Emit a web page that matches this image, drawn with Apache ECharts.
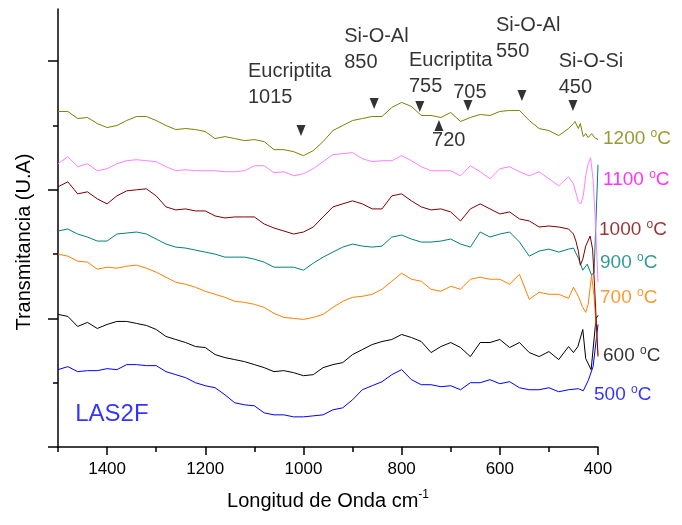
<!DOCTYPE html>
<html><head><meta charset="utf-8">
<script src="https://cdn.jsdelivr.net/npm/echarts@6/dist/echarts.min.js"></script>
<style>html,body{margin:0;padding:0;background:#fff}#c{width:682px;height:525px}</style>
</head><body><div id="c"></div>
<script>
// Wavenumber grid (cm^-1) shared by all spectra
const wavenumbers = [1500,1480,1460,1440,1420,1400,1380,1360,1340,1320,1300,1280,1260,1240,1220,1200,1180,1160,1140,1120,1100,1080,1060,1040,1020,1000,980,960,940,920,900,880,860,840,820,800,780,760,740,720,700,680,660,640,620,600,580,560,540,520,500,480,460];

// Offset transmittance (arbitrary units) for each temperature
const t1200 = [334,334,327,328,322,318,320,325,329,329,325,320,316,317,316,314,307,309,307,305,306,304,296,296,294,290,295,304,315,320,325,327,329,329,338,343,339,330,330,328,333,324,328,331,330,334,335,335,325,317,315,310,317];
const t1200Tail = [[450,322],[447,324],[440,317],[436,322],[430,309],[425,312],[420,308],[413,312],[407,308],[400,306]];
const t1100 = [282,289,279,282,275,277,282,285,286,285,284,279,275,276,275,275,275,274,274,275,280,280,273,274,270,272,277,284,291,292,293,287,284,285,285,290,285,279,275,275,275,270,280,274,267,277,279,274,270,274,267,260,269];
const t1100Tail = [[450,262],[440,244],[435,242],[430,250],[425,270],[420,282],[415,288],[410,266],[405,222],[400,164]];
const t1000 = [259,264,252,254,247,242,250,255,256,257,250,239,236,237,235,235,230,228,229,229,229,222,218,215,212,214,219,229,239,242,245,242,237,237,250,252,245,239,236,237,234,225,237,242,237,232,234,227,225,219,220,219,217];
const t1000Tail = [[450,212],[445,205],[440,195],[436,181],[431,187],[425,200],[416,210],[411,197],[407,160],[400,90]];
const t900 = [215,217,212,209,205,205,212,213,214,212,207,202,199,198,196,194,192,189,189,189,187,184,179,179,179,176,183,189,194,199,202,200,199,200,209,211,207,204,204,205,207,202,199,214,209,212,214,204,190,195,197,194,197];
const t900Tail = [[450,198],[440,188],[431,176],[422,182],[413,171],[408,174],[400,281]];
const t700 = [192,190,185,184,177,179,178,180,181,178,174,169,164,162,159,155,152,149,145,144,142,139,133,129,128,127,129,132,139,145,149,150,152,157,165,173,167,165,157,155,160,157,167,169,167,167,162,172,147,154,152,152,148];
const t700Tail = [[450,159],[440,150],[432,140],[425,134],[420,142],[413,171],[408,150],[400,92]];
const t600 = [132,130,120,124,118,122,125,125,123,121,117,110,107,104,100,99,92,89,87,85,82,79,75,76,74,71,72,79,82,84,92,97,102,105,107,112,109,105,94,100,104,99,90,104,104,107,99,104,94,90,95,87,100];
const t600Tail = [[450,94],[441,100],[431,117],[425,88],[414,77],[404,128],[400,131]];
const t500 = [77,80,75,76,76,78,77,82,82,81,81,75,72,69,64,61,59,52,44,42,41,34,32,32,30,30,31,32,37,39,47,57,61,65,72,77,67,62,62,60,61,57,64,64,67,63,65,59,57,57,59,55,57];
const t500Tail = [[440,58],[430,56],[420,66],[410,80],[400,122]];

// Series labels
const seriesNames = ['1200','1100','1000','900','700','600','500'];
const lineColors  = ['#808000','#ff80ff','#800000','#008080','#ff8000','#000000','#0000ff'];
const labelColors = ['#808000','#ff00ff','#800000','#008080','#ff8000','#000000','#0000ff'];
const labelY      = [307,266,216,183,149,91,52];
const labelDx     = [5,5,1,2,2,5,-4];

// Band annotations
const annoText = ['Eucriptita\n1015','Si-O-Al\n850','Eucriptita\n755','705','Si-O-Al\n550','Si-O-Si\n450','720'];
const annoX = [1113,917,785,695,608,480,738];
const annoY = [361,396,372,353,407,371,305];
const downMarkX = [1005,856,763,665,555,451];
const downMarkY = [315,342,339,340,350,340];
const upMarkX = [724];
const upMarkY = [320];

// Axis ticks
const xMajor = [400,600,800,1000,1200,1400];
const xMinor = [500,700,900,1100,1300,1500];
const yMajor = [0,128,256,384];
const yMinor = [64,192,320];

const FONT = 'Liberation Sans, Arial, sans-serif';
const allVals = [t1200,t1100,t1000,t900,t700,t600,t500];
const allTails = [t1200Tail,t1100Tail,t1000Tail,t900Tail,t700Tail,t600Tail,t500Tail];

const series = [];
allVals.forEach((vals, k) => {
  series.push({
    type: 'line', name: seriesNames[k], showSymbol: false, symbol: 'none',
    data: wavenumbers.map((w, i) => [w, vals[i]]).concat(allTails[k]),
    lineStyle: { color: lineColors[k], width: 1 }, itemStyle: { color: lineColors[k] },
    z: 10 - k, silent: true, animation: false
  });
});

series.push({
  type: 'scatter', symbolSize: 0, silent: true, animation: false, z: 20,
  data: seriesNames.map((n, k) => ({
    value: [400, labelY[k]],
    label: {
      show: true, position: 'right', distance: 0, offset: [labelDx[k], 0],
      formatter: '{t|' + n + ' }{o|o}{t|C}',
      rich: {
        t: { fontSize: 19, fontFamily: FONT, color: labelColors[k], lineHeight: 22 },
        o: { fontSize: 12, fontFamily: FONT, color: labelColors[k], lineHeight: 14, verticalAlign: 'top' }
      }
    }
  }))
});

series.push({
  type: 'scatter', symbolSize: 0, silent: true, animation: false, z: 20,
  data: [{ value: [1465, 32], label: { show: true, position: 'right', distance: 0, formatter: 'LAS2F', fontSize: 24, fontFamily: FONT, color: '#0000ff' } }]
});

series.push({
  type: 'scatter', symbolSize: 0, silent: true, animation: false, z: 20,
  data: annoText.map((t, i) => ({
    value: [annoX[i], annoY[i]],
    label: { show: true, position: 'right', distance: 0, formatter: t, fontSize: 20, lineHeight: 26, fontFamily: FONT, color: '#000' }
  }))
});

series.push({
  type: 'scatter', symbol: 'triangle', symbolSize: [9, 11], symbolRotate: 180, silent: true, animation: false, z: 20,
  itemStyle: { color: '#000' },
  data: downMarkX.map((x, i) => [x, downMarkY[i]])
});
series.push({
  type: 'scatter', symbol: 'triangle', symbolSize: [9, 11], silent: true, animation: false, z: 20,
  itemStyle: { color: '#000' },
  data: upMarkX.map((x, i) => [x, upMarkY[i]])
});

const axisLineStyle = { color: '#000', width: 1.5 };
const option = {
  backgroundColor: '#fff',
  animation: false,
  grid: { left: 58, right: 84, top: 9, bottom: 78, containLabel: false, outerBoundsMode: 'none' },
  xAxis: [
    {
      type: 'value', min: 400, max: 1500, inverse: true, interval: 100, position: 'bottom',
      axisLine: { show: true, lineStyle: axisLineStyle },
      axisTick: { show: true, customValues: xMajor, length: 8, lineStyle: axisLineStyle },
      axisLabel: { show: true, customValues: xMajor, color: '#000', fontSize: 17, fontFamily: FONT, margin: 14,
                   formatter: v => String(v) },
      splitLine: { show: false },
      name: '{a|Longitud de Onda cm}{s|-1}', nameLocation: 'middle', nameGap: 42, nameMoveOverlap: false,
      nameTextStyle: { rich: {
        a: { fontSize: 20, fontFamily: FONT, color: '#000', lineHeight: 24 },
        s: { fontSize: 12, fontFamily: FONT, color: '#000', lineHeight: 14, verticalAlign: 'top' }
      } }
    },
    {
      type: 'value', min: 400, max: 1500, inverse: true, interval: 100, position: 'bottom',
      axisLine: { show: false },
      axisTick: { show: true, customValues: xMinor, length: 5, lineStyle: axisLineStyle },
      axisLabel: { show: false }, splitLine: { show: false }
    }
  ],
  yAxis: [
    {
      type: 'value', min: 0, max: 436, interval: 128, position: 'left',
      axisLine: { show: true, lineStyle: axisLineStyle },
      axisTick: { show: true, customValues: yMajor, length: 10, lineStyle: axisLineStyle },
      axisLabel: { show: false }, splitLine: { show: false },
      name: 'Transmitancia (U.A)', nameLocation: 'middle', nameRotate: 90, nameGap: 24, nameMoveOverlap: false,
      nameTextStyle: { fontSize: 20, fontFamily: FONT, color: '#000', padding: [0, 28, 0, 0] }
    },
    {
      type: 'value', min: 0, max: 436, interval: 128, position: 'left',
      axisLine: { show: false },
      axisTick: { show: true, customValues: yMinor, length: 5, lineStyle: axisLineStyle },
      axisLabel: { show: false }, splitLine: { show: false }
    }
  ],
  series: series
};
const chart = echarts.init(document.getElementById('c'), null, { renderer: 'canvas' });
chart.setOption(option);
</script>
</body></html>
